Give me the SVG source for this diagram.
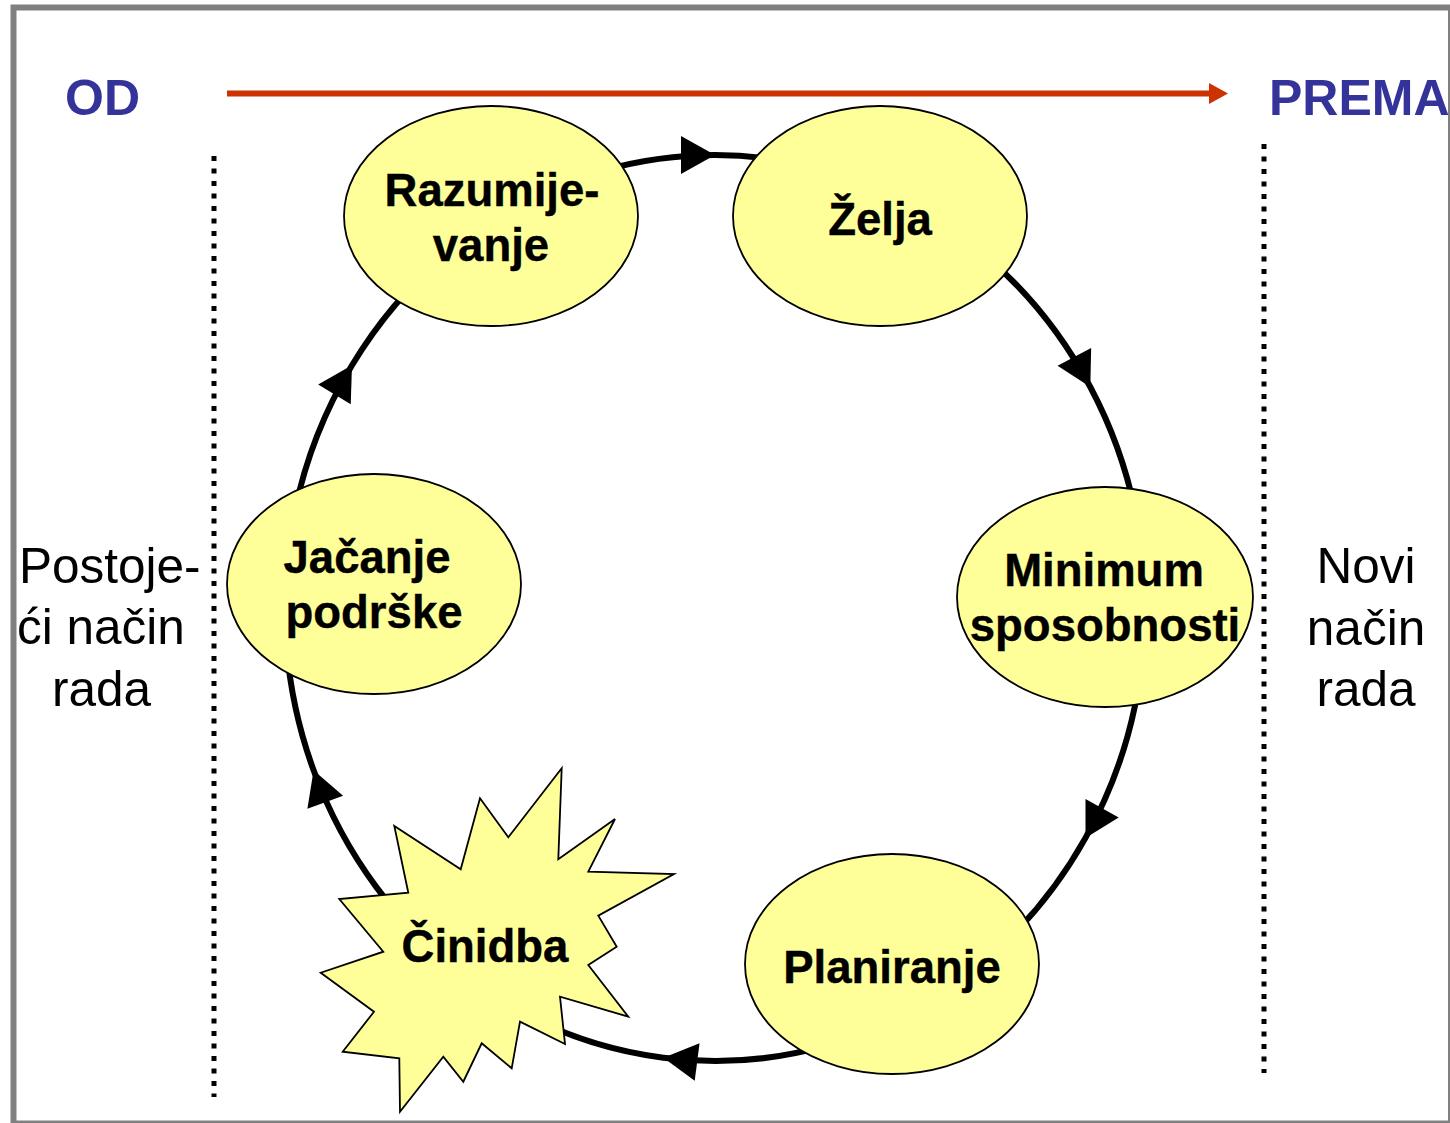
<svg xmlns="http://www.w3.org/2000/svg" width="1450" height="1123" viewBox="0 0 1450 1123">
<style>
.node{fill:#FFFF99;stroke:#000;stroke-width:1.8}
.lbl{font-family:"Liberation Sans",Arial,sans-serif;font-weight:bold;font-size:45.5px;fill:#000;text-anchor:middle;stroke:#000;stroke-width:0.4}
.side{font-family:"Liberation Sans",Arial,sans-serif;font-size:49.5px;fill:#000}
.big{font-family:"Liberation Sans",Arial,sans-serif;font-weight:bold;font-size:50px;fill:#333399}
.conn{fill:none;stroke:#000;stroke-width:6;marker-mid:url(#ah)}
.dots{stroke:#000;stroke-width:5;stroke-dasharray:5 7.5}
</style>
<defs>
<marker id="ah" markerUnits="userSpaceOnUse" markerWidth="44" markerHeight="44" viewBox="-2 -22 40 44" refX="34" refY="0" orient="auto">
<path d="M0,-19 L34,0 L0,19 z" fill="#000"/>
</marker>
</defs>
<rect x="0" y="0" width="1450" height="1123" fill="#fff"/>
<rect x="13.5" y="7.5" width="1437.5" height="1116" fill="none" stroke="#808080" stroke-width="6"/>

<g id="header">
<text class="big" x="65" y="115">OD</text>
<text class="big" x="1269" y="115">PREMA</text>
<line x1="227" y1="93.5" x2="1209" y2="93.5" stroke="#CC3300" stroke-width="6"/>
<path d="M1209,83 L1228,93.5 L1209,104 z" fill="#CC3300"/>
</g>

<g id="dividers">
<line class="dots" x1="214" y1="156" x2="214" y2="1097"/>
<line class="dots" x1="1264" y1="144" x2="1264" y2="1073"/>
</g>

<g id="side-labels">
<text class="side" x="19" y="583">Postoje-</text>
<text class="side" x="17" y="644">ći način</text>
<text class="side" x="52" y="706">rada</text>
<text class="side" x="1366" y="583" text-anchor="middle">Novi</text>
<text class="side" x="1366" y="645" text-anchor="middle">način</text>
<text class="side" x="1366" y="706" text-anchor="middle">rada</text>
</g>

<g id="connectors">
<path class="conn" d="M500,215.7 A430,453 0 0 1 715,155 A430,453 0 0 1 930,215.7"/>
<path class="conn" d="M961.6,236.9 A430,453 0 0 1 1090.3,387 A430,453 0 0 1 1143.4,568.5"/>
<path class="conn" d="M1143.4,647.5 A430,453 0 0 1 1085.5,837.9 A430,453 0 0 1 961.6,979.1"/>
<path class="conn" d="M826.3,1045.6 A430,453 0 0 1 663.4,1057.7 A430,453 0 0 1 500,1000.3"/>
<path class="conn" d="M468.4,979.1 A430,453 0 0 1 313.6,770.3 A430,453 0 0 1 286.6,647.5"/>
<path class="conn" d="M286.6,568.5 A430,453 0 0 1 352,365.3 A430,453 0 0 1 500,215.7"/>
</g>

<g id="razumijevanje">
<ellipse class="node" cx="491" cy="216" rx="147" ry="110"/>
<text class="lbl" x="492" y="206">Razumije-</text>
<text class="lbl" x="491" y="261">vanje</text>
</g>
<g id="zelja">
<ellipse class="node" cx="880" cy="216" rx="147" ry="110"/>
<text class="lbl" x="880" y="235">Želja</text>
</g>
<g id="minimum-sposobnosti">
<ellipse class="node" cx="1105" cy="597" rx="148" ry="110"/>
<text class="lbl" x="1104" y="586">Minimum</text>
<text class="lbl" x="1105" y="641">sposobnosti</text>
</g>
<g id="planiranje">
<ellipse class="node" cx="892" cy="964" rx="147" ry="110"/>
<text class="lbl" x="892" y="983">Planiranje</text>
</g>
<g id="cinidba">
<polygon class="node" points="561.7,768.3 558.3,859.3 615,819 588.3,871.7 674,874 598.3,915.7 616.7,946.7 588.3,965 628.3,1016.7 560,996.7 565,1044 520,1021.7 511.7,1068.3 481.7,1043.3 463.3,1081.7 443.3,1056.7 400,1111.7 399.3,1058.3 342.7,1051.7 374,1011.7 320.7,972.7 383.3,951.7 339.3,899 408.3,892.7 394.3,826 460.7,869.3 480,798.3 508.3,837.3"/>
<text class="lbl" x="485" y="962">Činidba</text>
</g>
<g id="jacanje-podrske">
<ellipse class="node" cx="374" cy="584" rx="147" ry="110"/>
<text class="lbl" x="367" y="573">Jačanje</text>
<text class="lbl" x="374" y="628">podrške</text>
</g>
</svg>
